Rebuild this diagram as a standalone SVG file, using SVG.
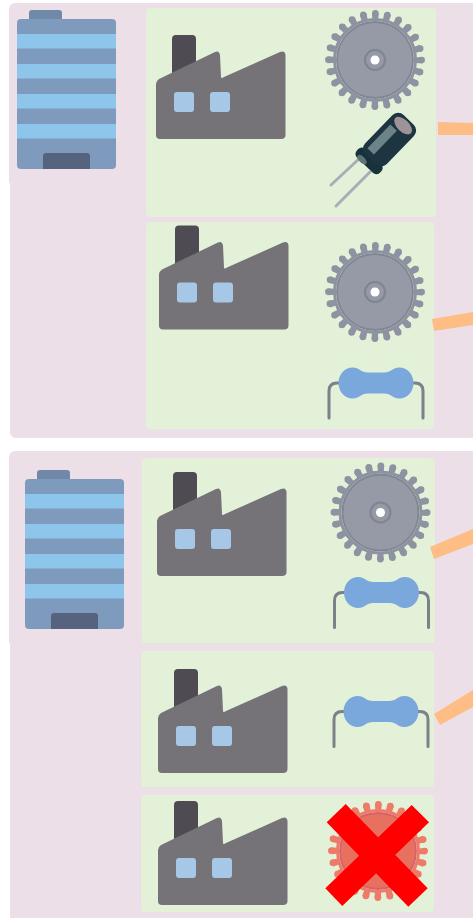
<svg xmlns="http://www.w3.org/2000/svg" xmlns:xlink="http://www.w3.org/1999/xlink" width="473" height="918" viewBox="0 0 473 918">
<style>
.pink{fill:#ecdfe7}
.green{fill:#e3f1d8}
.bar{fill:#fdbd85}
.cross{fill:#ff0000}
.soft{filter:url(#soft)}
</style>
<defs>
<filter id="soft" x="-5%" y="-5%" width="110%" height="110%"><feGaussianBlur stdDeviation="0.5"/></filter>
<g id="factory">
<rect x="172" y="35" width="24" height="45" rx="4" fill="#4f4b52"/>
<path d="M156 84Q156 81 159 79L215 52Q219 50 220 55L221 77Q221 79 224 77L280 52Q285 50 285.500 55L285.500 135Q285.500 139 281 139L160 139Q156 139 156 135Z" fill="#747378"/>
<rect x="174" y="92" width="20" height="20" rx="3" fill="#a6c8e6"/>
<rect x="210" y="92" width="20" height="20" rx="3" fill="#a6c8e6"/>
</g>
<g id="building">
<rect x="29" y="10" width="33" height="14" rx="3" fill="#6f89a8"/>
<rect x="17" y="19" width="99" height="150" rx="4" fill="#7e9bbd"/>
<rect x="17" y="34" width="99" height="14.500" fill="#8dc6ea"/>
<rect x="17" y="64" width="99" height="14.500" fill="#8dc6ea"/>
<rect x="17" y="94" width="99" height="14.500" fill="#8dc6ea"/>
<rect x="17" y="124" width="99" height="14.500" fill="#8dc6ea"/>
<path d="M43 156Q43 153 46 153L87 153Q90 153 90 156L90 169L43 169Z" fill="#55647f"/>
</g>
<g id="gearTeeth">
<circle r="40.500" fill="none" stroke-width="3"/>
<circle r="44" fill="none" stroke-width="7" stroke-dasharray="6.500 5.019" stroke-dashoffset="3.250"/>
<circle r="46.700" fill="none" stroke-width="6.500" stroke-linecap="round" stroke-dasharray="0 12.226"/>
</g>
<g id="gear">
<use xlink:href="#gearTeeth" stroke="#8d93a1"/>
<circle r="38" fill="#969aa6" stroke="#808592" stroke-width="1.800"/>
<circle r="10" fill="#969aa6" stroke="#808592" stroke-width="2.200"/>
<circle r="4.500" fill="#ffffff"/>
</g>
<g id="resistor">
<path d="M-47 35L-47 8Q-47 0 -39 0L-35 0M35 0L39 0Q47 0 47 8L47 35" fill="none" stroke="#7c8087" stroke-width="3" stroke-linecap="round"/>
<path d="M-23 -15.500C-17 -15.500 -15 -10.500 -8 -10.500L8 -10.500C15 -10.500 17 -15.500 23 -15.500C32 -15.500 37.500 -8 37.500 0C37.500 8 32 15.500 23 15.500C17 15.500 15 10.500 8 10.500L-8 10.500C-15 10.500 -17 15.500 -23 15.500C-32 15.500 -37.500 8 -37.500 0C-37.500 -8 -32 -15.500 -23 -15.500Z" fill="#7aa8dc"/>
</g>
<g id="capacitor">
<path d="M361 157L331 185M370 172L336 206" stroke="#a9adb8" stroke-width="3" stroke-linecap="round" fill="none"/>
<g transform="translate(367 163) rotate(-46)">
<rect x="-3" y="-16" width="12" height="32" rx="5" fill="#16303a"/>
<ellipse cx="-1" cy="-6" rx="3" ry="6" fill="#5d7378"/>
<rect x="5" y="-15" width="55" height="30" rx="8" fill="#1b3540"/>
<rect x="11" y="-10" width="33" height="9" fill="#6c8488"/>
<ellipse cx="52" cy="0" rx="6" ry="11" fill="#a09398"/>
</g>
</g>
</defs>
<g id="backgrounds">
<rect class="pink" x="9" y="3" width="138" height="184" rx="6"/>
<rect class="pink" x="10" y="3" width="480" height="435" rx="6"/>
<rect class="pink" x="9" y="451" width="138" height="196" rx="6"/>
<rect class="pink" x="10" y="451" width="480" height="480" rx="6"/>
</g>
<g id="group-a">
<g id="building-a" class="soft"><use xlink:href="#building"/></g>
<g id="panel-a1">
<rect class="green" x="146" y="8" width="290" height="209" rx="4"/>
<g class="soft">
<use xlink:href="#factory"/>
<use xlink:href="#gear" x="375" y="60"/>
<use xlink:href="#capacitor"/>
</g>
</g>
<g id="panel-a2">
<rect class="green" x="146" y="222" width="288" height="207" rx="4"/>
<g class="soft">
<use xlink:href="#factory" x="3" y="190.500"/>
<use xlink:href="#gear" x="375" y="292"/>
<use xlink:href="#resistor" x="376" y="383"/>
</g>
</g>
</g>
<g id="group-b">
<g id="building-b" class="soft"><use xlink:href="#building" x="8" y="460"/></g>
<g id="panel-b1">
<rect class="green" x="142" y="458" width="293" height="185" rx="4"/>
<g class="soft">
<use xlink:href="#factory" x="1" y="437"/>
<use xlink:href="#gear" x="380.500" y="512.500"/>
<use xlink:href="#resistor" x="381.500" y="592.500"/>
</g>
</g>
<g id="panel-b2">
<rect class="green" x="141" y="651" width="293" height="136" rx="4"/>
<g class="soft">
<use xlink:href="#factory" x="2" y="634"/>
<use xlink:href="#resistor" x="381" y="711.500"/>
</g>
</g>
<g id="panel-b3">
<rect class="green" x="141" y="795" width="293" height="117" rx="4"/>
<g class="soft">
<use xlink:href="#factory" x="2" y="766"/>
<g transform="translate(378 851)">
<use xlink:href="#gearTeeth" stroke="#ee7a68"/>
<circle r="38" fill="#e8705f" stroke="#d9606a" stroke-width="1.800"/>
</g>
</g>
<polygon class="cross" points="345.700,804 326.700,822.300 408.300,906.700 427.700,888.300"/>
<polygon class="cross" points="411.700,805 429,822.300 342.300,906 325.300,888.300"/>
</g>
</g>
<g id="connectors">
<polygon class="bar" points="438,122 473,123 473,135 438,135"/>
<polygon class="bar" points="432,319 473,312 473,325 434,331"/>
<polygon class="bar" points="430,547 473,529 473,544 434,559"/>
<polygon class="bar" points="434,714 473,690 473,707 440,725"/>
</g>
</svg>
